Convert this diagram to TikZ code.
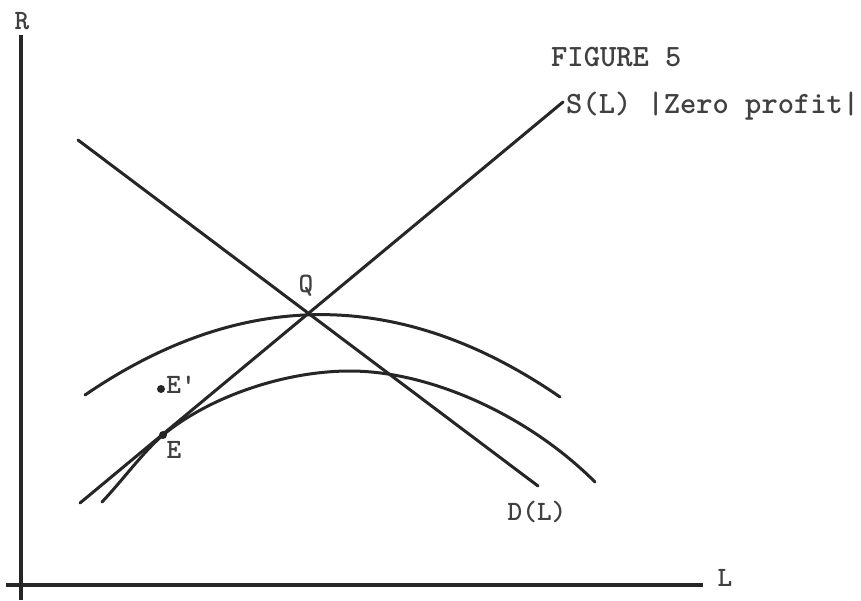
\documentclass[tikz,border=0pt]{standalone}
\usepackage{fontspec}
\usepackage{tikz}

\begin{document}
\begin{tikzpicture}[
    x=1pt, y=-1pt,
    every node/.style={
        font=\ttfamily\bfseries\fontsize{28}{30}\selectfont,
        inner sep=0pt,
        text=black!75
    },
    wide/.style={
        font=\ttfamily\bfseries\fontsize{31}{33}\selectfont
    },
    axis/.style={
        line width=3.2pt,
        color=black!85
    },
    curve/.style={
        line width=3pt,
        color=black!85,
        line cap=round
    },
    dot/.style={
        circle,
        fill=black!85,
        minimum size=8pt
    }
]
\useasboundingbox (0,0) rectangle (861,600);

% axes
\coordinate (xa) at (6,585);
\coordinate (xb) at (703,585);
\coordinate (ya) at (21,600);
\coordinate (yb) at (21,35);
\draw[axis] (xa) -- (xb);
\draw[axis] (ya) -- (yb);
\node (R) at (22,21) {R};
\node (L) at (725,578) {L};

\node[wide, anchor=west] (fig) at (551,57) {FIGURE 5};

% supply and demand
\coordinate (s0) at (80,503);
\coordinate (s1) at (563,102);
\coordinate (d0) at (78,140);
\coordinate (d1) at (538,486);
\draw[curve] (s0) -- (s1);
\draw[curve] (d0) -- (d1);
\node[wide, anchor=west] (sl) at (566,106) {S(L) |Zero profit|};
\node (dl) at (537,512) {D(L)};

% arches
\draw[curve] (85,395) .. controls (243,287) and (402,288) .. (560,397);
\draw[curve] (102,502) .. controls (122,481) and (143,452) .. (163,435)
    .. controls (209,397) and (284,371) .. (350,371)
    .. controls (430,371) and (528,415) .. (595,482);

% points
\node (Q) at (306,286) {Q};
\node[dot] (e) at (163,435) {};
\node (El) at (174,450) {E};
\node[dot] (ep) at (161,389) {};
\node (Epl) at (181,385) {E'};

\end{tikzpicture}
\end{document}
